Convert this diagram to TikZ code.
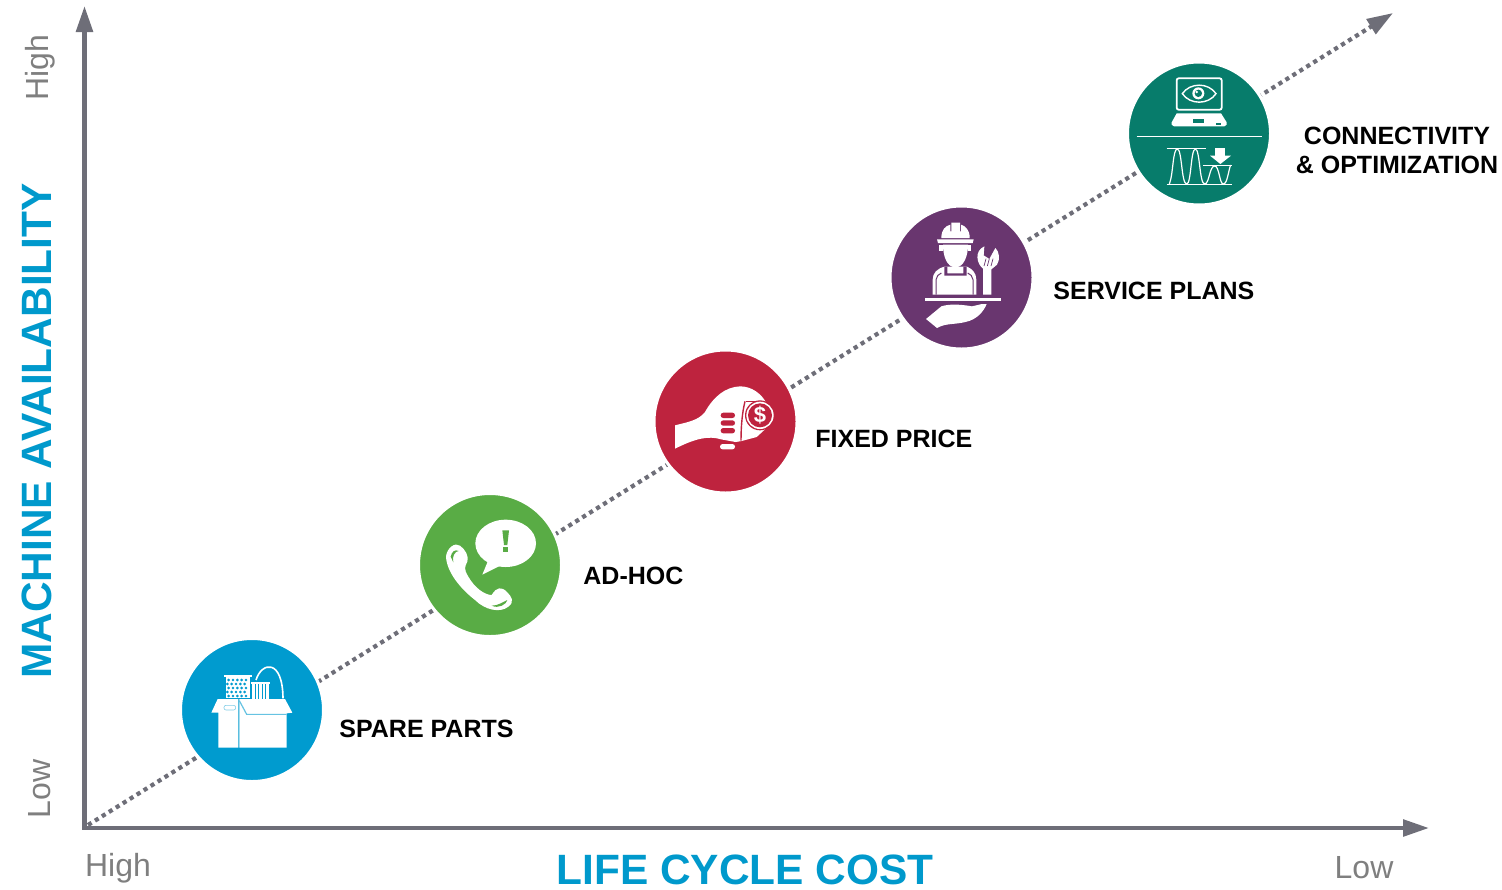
\documentclass[tikz,border=0pt]{standalone}
\usepackage{fontspec}
\setmainfont{Liberation Sans}
\usetikzlibrary{arrows.meta}
\definecolor{axisgray}{HTML}{6E6E78}
\definecolor{lowgray}{HTML}{7F7F7F}
\definecolor{titleblue}{HTML}{0099CC}
\definecolor{cblue}{HTML}{009BCF}
\definecolor{cgreen}{HTML}{59AC45}
\definecolor{cred}{HTML}{BE233E}
\definecolor{cpurple}{HTML}{69366F}
\definecolor{cteal}{HTML}{077C6B}
\tikzset{
 axisline/.style={draw=axisgray,line width=2.2pt,{Triangle[length=13pt,width=8.2pt]}-{Triangle[length=13pt,width=8.2pt]}},
 dotline/.style={draw=axisgray,line width=2.1pt,dash pattern=on 2.1pt off 2pt,-{Triangle[length=13pt,width=8.5pt]}},
 disc/.style={circle,minimum size=71.5pt,inner sep=0pt,draw=white,line width=1.5pt},
 lab/.style={font=\fontsize{12.5}{14.5}\selectfont\bfseries,align=center,text=black,inner sep=0pt},
 rangelab/.style={font=\fontsize{16}{18}\selectfont,text=lowgray,inner sep=0pt},
 axtitle/.style={font=\fontsize{21.2}{25}\selectfont\bfseries,text=titleblue,inner sep=0pt},
 zoomxy/.style={x=0.16667pt,y=-0.16667pt}
}
\begin{document}
\begin{tikzpicture}[x=0.5pt,y=-0.5pt]
\useasboundingbox (0,0) rectangle (1502,889);
\coordinate (orig) at (84.5,828);
\coordinate (ytip) at (84.5,6);
\coordinate (xtip) at (1429,828);
\coordinate (dstart) at (88,825);
\coordinate (dtip) at (1393,13);
\draw[dotline] (dstart) -- (dtip);
\draw[axisline] (ytip) -- (orig) -- (xtip);
\node[disc,fill=cblue] (spare) at (252,710) {};
\node[disc,fill=cgreen] (adhoc) at (490,565) {};
\node[disc,fill=cred] (fixed) at (725.5,421.5) {};
\node[disc,fill=cpurple] (plans) at (961.5,277.5) {};
\node[disc,fill=cteal] (conn) at (1199,133.5) {};
\node[lab,anchor=west] (l1) at (339,729) {SPARE PARTS};
\node[lab,anchor=west] (l2) at (583,576) {AD-HOC};
\node[lab,anchor=west] (l3) at (815,439) {FIXED PRICE};
\node[lab,anchor=west] (l4) at (1053,291) {SERVICE PLANS};
\node[lab] (l5) at (1397,150.5) {CONNECTIVITY\\\& OPTIMIZATION};
\node[rangelab] (hx) at (118,868) {High};
\node[rangelab] (lx) at (1364,868) {Low};
\node[rangelab,rotate=90] (hy) at (40,68) {High};
\node[rangelab,rotate=90] (ly) at (40,789) {Low};
\node[axtitle] (tx) at (745,870) {LIFE CYCLE COST};
\node[axtitle,rotate=90] (ty) at (37,431) {MACHINE AVAILABILITY};
% spare parts icon
\begin{scope}[shift={(170,630)},zoomxy]
 \fill[white] (162,135) rectangle (245,141);
 \fill[white] (167,135) rectangle (241,205);
 \foreach \yy/\xo in {150/176,162/172,174/176,186/172,198/176}
  \foreach \k in {0,1,2,3,4}
   \fill[cblue] ({\xo+\k*13},\yy) circle (4.4);
 \draw[white,line width=0.8pt] (258,150) .. controls (275,95) and (338,85) .. (339,205);
 \fill[white] (243,155) rectangle (300,162);
 \fill[white] (247,155) rectangle (296,207);
 \foreach \xx in {256,266,276,286} \draw[cblue,line width=0.35pt] (\xx,162) -- (\xx,207);
 \fill[white] (143,207) -- (205,207) -- (205,353) -- (145,353) -- (145,248) -- (124,248) -- cycle;
 \fill[white] (208,207) -- (345,207) -- (367,248) -- (350,250) -- (350,353) -- (208,353) -- cycle;
 \draw[cblue!60,line width=0.6pt] (208,212) -- (230,253) -- (350,253);
 \draw[cblue!50,line width=0.3pt,rounded corners=1pt] (162,226) rectangle (197,240);
\end{scope}
% phone icon
\begin{scope}[shift={(410,485)},zoomxy]
 \fill[white] (287,175) ellipse (91 and 71);
 \fill[white] (235,225) -- (217,269) -- (275,240) -- cycle;
 \fill[cgreen] (277,136) -- (297,136) -- (292,180) -- (282,180) -- cycle;
 \fill[cgreen] (279,186) rectangle (295,200);
 \fill[white] (108,215) .. controls (110,190) and (135,170) .. (150,182)
   .. controls (165,192) and (178,215) .. (172,230)
   .. controls (165,245) and (160,250) .. (175,275)
   .. controls (195,310) and (225,330) .. (245,330)
   .. controls (260,305) and (275,305) .. (290,320)
   .. controls (305,335) and (315,350) .. (295,365)
   .. controls (270,385) and (225,375) .. (195,345)
   .. controls (150,310) and (110,260) .. (108,215) -- cycle;
 \fill[cgreen] (122,215) .. controls (125,200) and (135,192) .. (146,198) .. controls (135,198) and (125,215) .. (130,232) -- cycle;
 \fill[cgreen] (245,362) .. controls (265,362) and (280,350) .. (292,345) .. controls (290,358) and (265,372) .. (245,362) -- cycle;
\end{scope}
% hand icon
\begin{scope}[shift={(645,342)},zoomxy]
 \fill[white] (90,250) .. controls (130,240) and (160,235) .. (180,210)
  .. controls (205,165) and (240,135) .. (285,133)
  .. controls (320,133) and (350,155) .. (365,185)
  -- (360,262) -- (335,285) -- (290,297) -- (272,300) -- (228,292)
  .. controls (190,280) and (150,290) .. (90,320) -- cycle;
 \draw[cred,line width=0.8pt] (303,178) -- (330,178);
 \draw[cred,line width=0.7pt] (300,178) .. controls (292,210) and (288,250) .. (288,296);
 \fill[cred] (345,220) circle (45);
 \fill[white] (345,220) circle (41);
 \fill[cred] (345,220) circle (36);
 \node[font=\fontsize{11}{11}\selectfont\bfseries,text=white,inner sep=0pt] (dollar) at (345,220) {\$};
 \foreach \yy in {220,243,266}
  \fill[cred,rounded corners=1.3pt] (227,{\yy-8}) rectangle (270,{\yy+8});
 \fill[white,rounded corners=1.3pt] (225,306) rectangle (270,322);
\end{scope}
% worker icon
\begin{scope}[shift={(882,198)},zoomxy]
 \fill[white] (178,120) .. controls (178,95) and (190,84) .. (205,80) -- (205,100) -- (208,100) -- (208,74) -- (234,74) -- (234,100) -- (237,100) -- (237,80) .. controls (250,84) and (263,95) .. (263,120) -- cycle;
 \fill[white] (165,124) -- (275,124) -- (272,135) -- (168,135) -- cycle;
 \fill[white] (183,140) -- (258,140) .. controls (258,175) and (245,208) .. (220,208) .. controls (195,208) and (183,175) .. (183,140) -- cycle;
 \fill[white] (172,140) rectangle (183,160);
 \fill[white] (258,140) rectangle (268,160);
 \fill[white] (152,290) -- (152,245) .. controls (152,225) and (165,212) .. (187,206) -- (255,206) .. controls (270,212) and (283,225) .. (283,245) -- (283,290) -- cycle;
 \draw[cpurple,line width=0.5pt] (162,290) -- (162,245) .. controls (163,235) and (170,228) .. (178,225);
 \draw[cpurple,line width=0.5pt] (273,290) -- (273,245) .. controls (272,235) and (265,228) .. (257,225);
 \fill[cpurple] (187,206) -- (196,206) -- (196,226) -- (244,226) -- (244,206) -- (254,206) -- (254,233) -- (187,233) -- cycle;
 \fill[white] (303,290) -- (303,212) .. controls (285,198) and (275,160) .. (307,145) -- (305,172) -- (322,183) -- (340,150) .. controls (352,160) and (355,185) .. (345,200) -- (328,214) -- (328,290) -- cycle;
 \foreach \a/\b in {312/306,322/316,333/327} \draw[cpurple,line width=0.35pt] (\a,182) -- (\b,204);
 \fill[white] (128,299) rectangle (358,309);
 \fill[white] (132,363) -- (178,325) .. controls (200,318) and (230,318) .. (270,325) -- (300,318) -- (314,318) .. controls (305,340) and (285,365) .. (250,372) .. controls (220,380) and (190,375) .. (165,390) -- cycle;
\end{scope}
% connectivity icon
\begin{scope}[shift={(1120,54)},zoomxy]
 \draw[white,line width=0.9pt,rounded corners=1pt] (170,73) rectangle (305,167);
 \fill[white] (170,178) -- (303,178) -- (320,205) -- (320,212) -- (313,217) -- (162,217) -- (155,212) -- (155,205) -- cycle;
 \fill[cteal] (220,196) rectangle (253,207);
 \fill[cteal] (287,208) rectangle (303,212);
 \draw[white,line width=0.7pt] (187,119) .. controls (210,85) and (265,85) .. (288,119) .. controls (265,153) and (210,153) .. (187,119) -- cycle;
 \fill[white] (235,118) circle (18);
 \fill[cteal] (235,118) circle (11);
 \fill[white] (230,114) circle (4);
 \draw[white,line width=0.45pt] (50,247) -- (425,247);
 \draw[white,line width=0.4pt] (140,283) -- (257,283);
 \draw[white,line width=0.4pt] (140,390) -- (335,390);
 \draw[white,line width=0.4pt] (250,333) -- (335,333);
 \draw[white,line width=0.6pt] (148,390) .. controls (160,360) and (158,285) .. (172,285)
   .. controls (186,285) and (184,390) .. (200,390)
   .. controls (214,390) and (212,285) .. (226,285)
   .. controls (240,285) and (238,390) .. (254,390)
   .. controls (268,390) and (268,336) .. (284,336)
   .. controls (298,336) and (298,390) .. (310,390)
   .. controls (322,390) and (325,350) .. (332,333);
 \fill[white] (284,282) rectangle (316,305);
 \fill[white] (270,305) -- (333,305) -- (301,330) -- cycle;
\end{scope}
\end{tikzpicture}
\end{document}
